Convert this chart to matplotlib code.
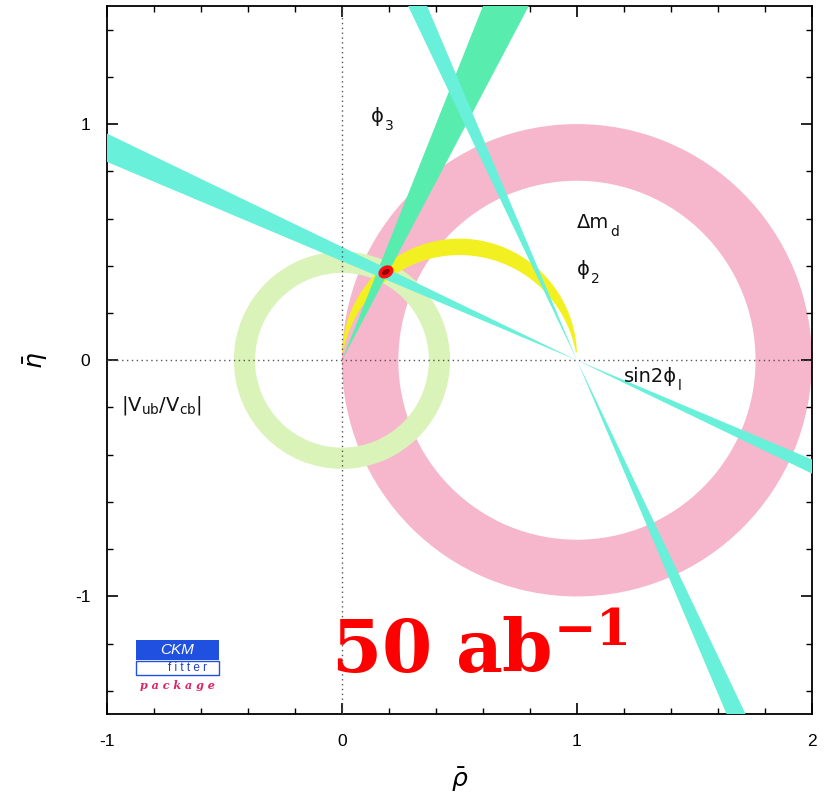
import numpy as np
import matplotlib
matplotlib.use("Agg")
import matplotlib.pyplot as plt
from matplotlib.patches import Polygon, Ellipse, Rectangle, Wedge

plt.rcParams['font.family'] = ['Liberation Sans', 'DejaVu Sans']
plt.rcParams['mathtext.fontset'] = 'custom'
plt.rcParams['mathtext.rm'] = 'DejaVu Sans'
plt.rcParams['mathtext.it'] = 'DejaVu Sans:italic'
plt.rcParams['mathtext.bf'] = 'DejaVu Serif:bold'

# ---------------- data ----------------
x_range = [-1.0, 2.0]
y_range = [-1.5, 1.5]
x_major = [-1, 0, 1, 2]
y_major = [-1, 0, 1]
x_ticklabels = ['-1', '0', '1', '2']
y_ticklabels = ['-1', '0', '1']

dmd_center = [1.0, 0.0]          # Delta m_d ring
dmd_radii = [0.76, 1.00]
vub_center = [0.0, 0.0]          # |Vub/Vcb| ring
vub_radii = [0.37, 0.46]
phi2_offsets = [-0.058, 0.0147]   # centre heights of the two alpha circles through (0,0),(1,0)
sin2phi1_slopes = [-0.42, -0.48]   # dy/dx of shallow solution through (1,0)
sin2phi1_steep = [-0.425, -0.479]  # dx/dy of second solution through (1,0)
phi3_dxdy = [0.40, 0.53]           # dx/dy of phi3 wedge from (0,0)
apex = [0.187, 0.374]
apex_size = [0.052, 0.036]

labels = [
    ('\u03d5', '3', 0.125, 1.01),
    ('\u0394m', 'd', 1.00, 0.56),
    ('\u03d5', '2', 1.00, 0.36),
    ('sin2\u03d5', 'l', 1.20, -0.09),
]
vub_label = (r'$|\mathrm{V}_{\mathrm{ub}}/\mathrm{V}_{\mathrm{cb}}|$', -0.94, -0.19)
lumi_text = r'$\mathbf{50\ ab}^{\mathbf{-1}}$'

c_pink = '#F6B6CB'
c_lgreen = '#D9F3B8'
c_yellow = '#F2F020'
c_cyan = '#68F0DA'
c_green = '#58EDAE'

# ---------------- figure ----------------
fig = plt.figure(figsize=(8.26, 8.01), dpi=100)
ax = fig.add_axes([0.1295, 0.108, 0.8535, 0.8845])
ax.set_xlim(*x_range)
ax.set_ylim(*y_range)

# Delta m_d ring
ax.add_patch(Wedge(dmd_center, dmd_radii[1], 0, 360, width=dmd_radii[1] - dmd_radii[0],
                   facecolor=c_pink, edgecolor='none', zorder=1))
# Vub ring
ax.add_patch(Wedge(vub_center, vub_radii[1], 0, 360, width=vub_radii[1] - vub_radii[0],
                   facecolor=c_lgreen, edgecolor='none', zorder=2))

# phi2 lens (two circles through (0,0) and (1,0))
def arc(k, n=300):
    R = np.sqrt(0.25 + k * k)
    a0 = np.arctan2(-k, 0.5)
    a1 = np.arctan2(-k, -0.5)
    if a1 < a0:
        a1 += 2 * np.pi
    t = np.linspace(a0, a1, n)
    return np.column_stack([0.5 + R * np.cos(t), k + R * np.sin(t)])

outer = arc(phi2_offsets[1])
inner = arc(phi2_offsets[0])[::-1]
lens = np.vstack([outer, inner])
lens = lens[lens[:, 1] >= 0.03]
ax.add_patch(Polygon(lens, closed=True, facecolor=c_yellow, edgecolor='none', zorder=3))

# phi3 wedge from origin
far = 3.0
ax.add_patch(Polygon([(0, 0), (phi3_dxdy[0] * far, far), (phi3_dxdy[1] * far, far)],
                     closed=True, facecolor=c_green, edgecolor='none', zorder=4))

# sin2phi1 shallow solution (through (1,0))
for xe in (-3.0, 4.0):
    pts = [(1, 0)] + [(xe, s * (xe - 1)) for s in sin2phi1_slopes]
    ax.add_patch(Polygon(pts, closed=True, facecolor=c_cyan, edgecolor='none', zorder=5))
# sin2phi1 steep solution
for ye in (-3.0, 3.0):
    pts = [(1, 0)] + [(1 + s * ye, ye) for s in sin2phi1_steep]
    ax.add_patch(Polygon(pts, closed=True, facecolor=c_cyan, edgecolor='none', zorder=5))

# apex
ax.add_patch(Ellipse(apex, apex_size[0], apex_size[1], angle=30, facecolor='#900000',
                     edgecolor='#FF1010', lw=2.6, zorder=7))

# dotted axes
ax.axhline(0, color='#555555', ls=(0, (1, 2.5)), lw=1.0, zorder=8)
ax.axvline(0, color='#555555', ls=(0, (1, 2.5)), lw=1.0, zorder=8)

# labels: main part + subscript
for main, sub, x, y in labels:
    t = ax.text(x, y, main, fontsize=14, family='DejaVu Sans', ha='left', va='baseline',
                color='#111111', zorder=9)
    fig.canvas.draw()
    bb = t.get_window_extent()
    xd, yd = ax.transData.inverted().transform((bb.x1, bb.y0))
    ax.text(xd + 0.003, y - 0.035, sub, fontsize=10, family='DejaVu Sans', ha='left',
            va='baseline', color='#111111', zorder=9)

ax.text(vub_label[1], vub_label[2], vub_label[0], fontsize=14, ha='left', va='center',
        color='#111111', zorder=9)

ax.text(-0.045, -1.325, lumi_text, fontsize=52, color='#FF0000', ha='left', va='baseline',
        zorder=9)

# CKM fitter logo (axes coords)
tr = ax.transAxes
x0 = (136 - 107) / 705
w = (219 - 136) / 705
ax.add_patch(Rectangle((x0, 1 - (661 - 7) / 708), w, 20 / 708, transform=tr,
                       facecolor='#2050E0', edgecolor='none', zorder=10))
ax.text(x0 + w / 2, 1 - (651 - 7) / 708, 'CKM', transform=tr, color='white', fontsize=11,
        style='italic', ha='center', va='center', zorder=11)
ax.add_patch(Rectangle((x0, 1 - (676 - 7) / 708), w, 14 / 708, transform=tr,
                       facecolor='white', edgecolor='#2050E0', lw=1.0, zorder=10))
ax.text(x0 + w * 0.62, 1 - (669 - 7) / 708, 'f i t t e r', transform=tr, color='#2040C0',
        fontsize=8.5, ha='center', va='center', zorder=11)
ax.text(x0 + w / 2, 1 - (686 - 7) / 708, 'p a c k a g e', transform=tr, color='#E02060',
        fontsize=8, style='italic', fontweight='bold', family='DejaVu Serif',
        ha='center', va='center', zorder=11)

# ticks
ax.set_xticks(x_major)
ax.set_xticklabels(x_ticklabels)
ax.set_yticks(y_major)
ax.set_yticklabels(y_ticklabels)
ax.set_xticks(np.arange(-1, 2.001, 0.2), minor=True)
ax.set_yticks(np.arange(-1.4, 1.401, 0.2), minor=True)
ax.tick_params(which='both', direction='in', top=True, right=True, labelsize=12.5)
ax.tick_params(which='major', length=8, width=1.2)
ax.tick_params(which='minor', length=4, width=1.0)
ax.tick_params(axis='x', pad=14)
ax.tick_params(axis='y', pad=12)
for s in ax.spines.values():
    s.set_linewidth(1.3)

ax.set_xlabel(r'$\bar{\rho}$', fontsize=18, labelpad=12)
ax.set_ylabel(r'$\bar{\eta}$', fontsize=18, labelpad=18)

fig.savefig('out.png', dpi=100)
